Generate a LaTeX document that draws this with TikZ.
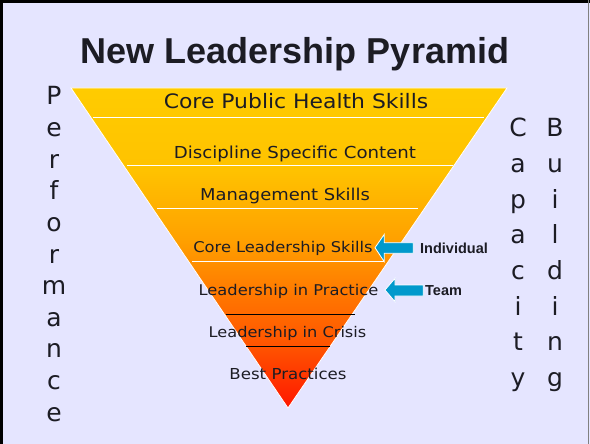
\documentclass[tikz,border=0pt]{standalone}
\usepackage{fontspec}
\setmainfont{Liberation Sans}
\newfontfamily\labf[FakeStretch=1.1]{DejaVu Sans}
\newfontfamily\sidef{DejaVu Sans}
\definecolor{bg}{RGB}{229,229,255}
\definecolor{txt}{RGB}{28,28,36}
\definecolor{arrowblue}{RGB}{0,153,204}
\definecolor{g0}{RGB}{255,204,0}
\definecolor{g1}{RGB}{255,194,0}
\definecolor{g2}{RGB}{255,160,0}
\definecolor{g3}{RGB}{255,115,0}
\definecolor{g4}{RGB}{255,80,0}
\definecolor{g5}{RGB}{255,20,0}
\tikzset{
  lab/.style={anchor=base, inner sep=0pt, text=txt},
  side/.style={anchor=base, inner sep=0pt, text=txt, font=\sidef\fontsize{25}{25}\selectfont},
  arrlab/.style={anchor=base west, inner sep=0pt, text=txt, font=\bfseries\fontsize{14.5}{15}\selectfont},
  blockarrow/.style={fill=arrowblue, draw=white, line width=0.8pt, line join=miter},
  sepwhite/.style={draw=white, line width=1pt},
  sepblack/.style={draw=black, line width=1pt}
}
\begin{document}
\begin{tikzpicture}[x=1pt,y=-1pt]
\useasboundingbox (0,0) rectangle (590,444);
\fill[bg] (0,0) rectangle (590,444);
\draw[black,line width=3pt] (1.5,444) -- (1.5,1.5) -- (590,1.5);
\draw[gray,line width=1pt] (588.5,0) -- (588.5,444);

% title
\node[anchor=base, inner sep=0pt, text=txt, font=\bfseries\fontsize{36}{38}\selectfont] (title) at (295,64) {New Leadership Pyramid};

% pyramid
\coordinate (TL) at (71,88);
\coordinate (TR) at (507,88);
\coordinate (AP) at (288,408);
\begin{scope}
\clip (TL) -- (TR) -- (AP) -- cycle;
\shade[top color=g0,bottom color=g1] (60,86) rectangle (520,171);
\shade[top color=g1,bottom color=g2] (60,170) rectangle (520,241);
\shade[top color=g2,bottom color=g3] (60,240) rectangle (520,301);
\shade[top color=g3,bottom color=g4] (60,300) rectangle (520,351);
\shade[top color=g4,bottom color=g5] (60,350) rectangle (520,410);
\end{scope}
\draw[white,line width=0.8pt,line join=miter] (TL) -- (TR) -- (AP) -- cycle;

% separators
\coordinate (s1a) at (93,118);  \coordinate (s1b) at (484,118);
\coordinate (s2a) at (127,166); \coordinate (s2b) at (453,166);
\coordinate (s3a) at (157,208); \coordinate (s3b) at (418,208);
\coordinate (s4a) at (192,261); \coordinate (s4b) at (384,261);
\coordinate (s5a) at (226,314); \coordinate (s5b) at (355,314);
\coordinate (s6a) at (246,346); \coordinate (s6b) at (330,346);
\draw[sepwhite] (s1a) -- (s1b);
\draw[sepwhite] (s2a) -- (s2b);
\draw[sepwhite] (s3a) -- (s3b);
\draw[sepwhite] (s4a) -- (s4b);
\draw[sepblack] (s5a) -- (s5b);
\draw[sepblack] (s6a) -- (s6b);

% band labels
\node[lab, font=\labf\fontsize{19.9}{20}\selectfont] (b1) at (296,109) {Core Public Health Skills};
\node[lab, font=\labf\fontsize{16.5}{17}\selectfont] (b2) at (295,158.3) {Discipline Specific Content};
\node[lab, font=\labf\fontsize{16.3}{17}\selectfont] (b3) at (285,200.7) {Management Skills};
\node[lab, font=\labf\fontsize{14.8}{15}\selectfont] (b4) at (283,252.7) {Core Leadership Skills};
\node[lab, font=\labf\fontsize{14.8}{15}\selectfont] (b5) at (288.5,295) {Leadership in Practice};
\node[lab, font=\labf\fontsize{14.7}{15}\selectfont] (b6) at (287.5,337.7) {Leadership in Crisis};
\node[lab, font=\labf\fontsize{15.1}{15}\selectfont] (b7) at (288,379.3) {Best Practices};

% arrows and their labels
\node[arrlab] (ind) at (420,253) {Individual};
\node[arrlab] (team) at (425,295.5) {Team};
\coordinate (tip1) at (375,247.7);
\coordinate (tip2) at (385,290);
\draw[blockarrow] (tip1) -- (384.3,234.3) -- (384.3,242.7) -- (413.3,242.7) -- (413.3,253.3) -- (384.3,253.3) -- (384.3,261.7) -- cycle;
\draw[blockarrow] (tip2) -- (395,278.3) -- (395,285) -- (423.3,285) -- (423.3,296) -- (395,296) -- (395,301.7) -- cycle;

% side words
\foreach \l [count=\i] in {P,e,r,f,o,r,m,a,n,c,e}
  \node[side] (perf\i) at (54,{105+(\i-1)*31.6}) {\l};
\foreach \l [count=\i] in {C,a,p,a,c,i,t,y}
  \node[side] (cap\i) at (518,{136.7+(\i-1)*35.7}) {\l};
\foreach \l [count=\i] in {B,u,i,l,d,i,n,g}
  \node[side] (bld\i) at (555,{136.7+(\i-1)*35.7}) {\l};
\end{tikzpicture}
\end{document}
